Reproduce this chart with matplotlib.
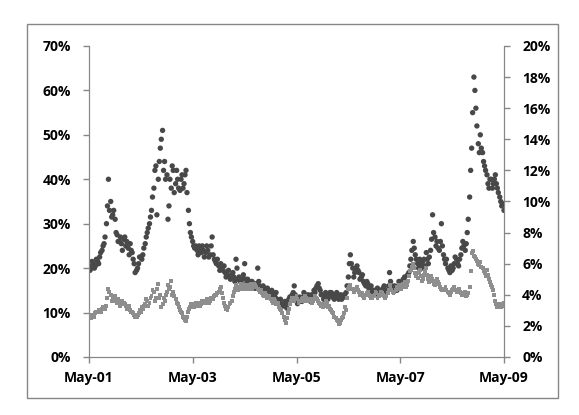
#!/usr/bin/env python3
import matplotlib
matplotlib.use("Agg")
import matplotlib.pyplot as plt
import matplotlib.dates as mdates
import matplotlib.ticker as mticker
import pandas as pd

# semi-monthly samples (1st / 15th), May 2001 .. May 2009
dates = pd.date_range("2001-05-01", "2009-05-01", freq="SMS")
# the in-between samples, one week later
mid_dates = pd.date_range("2001-05-01", "2009-04-16", freq="SMS") + pd.Timedelta(days=7)

# dark series, left axis (%)
dark = [
    20.5, 20, 21, 20.5, 21.5, 22.5, 24, 25.5, 30, 40, 35, 32, 31, 27.5, 26, 25.5, 26.5, 25, 24.5, 25.5, 23.5, 21, 19.5, 21,
    22.5, 23, 25.5, 28, 30, 33, 38, 43, 40, 47, 51, 44, 41, 34, 38, 42, 39, 40, 37.5, 41, 39, 42, 33, 28,
    26, 24.5, 24, 25, 23.5, 24, 23.5, 24, 23, 27, 22, 21, 20.5, 21, 19.5, 19, 18.5, 18, 18.5, 18, 22, 17.5, 17, 17.5,
    21, 16.5, 17, 16, 16.5, 15.5, 20, 16, 15, 15.5, 14.5, 15, 14, 14.5, 13.5, 13, 12.5, 12, 11.5, 12, 12.5, 13.5, 14, 16,
    13.5, 12.5, 13, 13.5, 14, 13.5, 13, 14, 15, 15.5, 16.5, 15, 14, 13.5, 13.5, 14, 14.5, 14, 13.5, 14, 13.5, 13, 14, 14.5,
    18, 23, 20, 19, 20.5, 19, 18, 17, 16, 16.5, 15.5, 14.5, 15, 14.5, 14, 15, 15.5, 14.5, 15, 19, 16, 15, 15.5, 16,
    16.5, 17, 18, 17, 19, 22, 26, 23, 21, 22, 20, 22, 23.5, 21, 24, 32, 27, 26, 24, 30, 23, 21, 20, 19,
    19.5, 21, 22, 20.5, 23, 26, 24, 28, 36, 47, 63, 56, 48, 50, 46, 43, 41, 38, 40, 39, 41, 38, 36, 34, 33,
]
dark_mid = [
    19.5, 21.5, 20, 22, 21, 23.5, 25, 27, 34, 33, 31.5, 33, 28, 26, 27, 24, 27, 26, 23, 24, 22, 19, 20, 22.5,
    22, 24.5, 27, 29, 31.5, 36, 42, 32, 44, 49, 42, 40, 31, 40, 43, 37, 42, 38, 40, 38, 41, 37, 30, 27,
    25, 25, 23, 24, 25, 22.5, 25, 22.5, 25, 23, 21.5, 22, 19.5, 20, 20.5, 18, 19.5, 17.5, 19, 17, 20, 18, 16.5, 18.5,
    17.5, 17.5, 16, 17, 15.5, 16.5, 17, 15.5, 16, 14.5, 15.5, 14, 15, 13.5, 14.5, 12.5, 13, 11.5, 12.5, 11, 13, 13, 14.5, 14,
    12, 13.5, 12.5, 14.5, 13, 14, 12.5, 13.5, 14.5, 16, 15.5, 14, 13, 14.5, 13, 14.5, 13.5, 13, 14.5, 13, 14, 13.5, 13.5, 16,
    21, 21, 18, 20, 19.5, 17.5, 18.5, 16.5, 17, 15.5, 16, 15, 14, 15.5, 14.5, 14.5, 16, 15, 16, 17, 15.5, 16, 15, 17,
    16, 17.5, 17, 18.5, 20.5, 24, 24.5, 22, 20, 21, 21.5, 20.5, 22, 22.5, 26.5, 28, 25, 24.5, 26, 25, 22, 22, 19.5, 20.5,
    20, 22.5, 21, 22, 24.5, 25, 25.5, 31, 42, 55, 60, 52, 46, 47, 44, 42, 39, 40, 38, 40, 39, 37, 35, 34.5,
]

# light series, right axis (%)
light = [
    2.6, 2.5, 2.7, 2.8, 2.9, 3.0, 3.1, 3.2, 3.3, 4.4, 4.0, 3.7, 3.9, 3.5, 3.6, 3.4, 3.5, 3.3, 3.2, 3.0, 2.9, 2.7, 2.6, 2.8,
    2.9, 3.1, 3.4, 3.6, 3.5, 3.9, 4.2, 3.8, 4.7, 4.0, 3.4, 3.6, 4.2, 4.4, 4.9, 4.2, 3.7, 3.4, 3.0, 2.8, 2.5, 2.3, 2.9, 3.2,
    3.3, 3.4, 3.3, 3.5, 3.4, 3.6, 3.5, 3.7, 3.6, 3.8, 3.9, 4.0, 4.2, 4.5, 3.8, 3.3, 3.0, 3.4, 3.6, 4.2, 4.6, 4.3, 4.5, 4.4,
    4.6, 4.5, 4.4, 4.7, 4.5, 4.6, 4.4, 4.2, 4.1, 3.9, 4.0, 3.8, 3.7, 3.5, 3.6, 3.4, 3.2, 3.0, 2.6, 2.2, 2.8, 3.4, 3.8, 3.6,
    3.9, 3.5, 3.6, 3.8, 3.9, 3.7, 3.6, 3.5, 3.7, 3.8, 3.6, 3.4, 3.2, 3.3, 3.5, 3.3, 3.0, 2.8, 2.5, 2.3, 2.2, 2.5, 2.8, 3.0,
    4.4, 4.6, 4.4, 4.3, 4.5, 4.2, 4.1, 3.9, 4.0, 4.2, 3.9, 3.8, 4.0, 4.1, 3.9, 4.2, 4.0, 3.8, 4.1, 4.6, 4.3, 4.1, 4.3, 4.4,
    4.6, 4.5, 4.8, 4.6, 5.2, 5.6, 6.0, 5.4, 5.1, 5.6, 4.9, 5.3, 5.7, 5.0, 5.2, 4.9, 4.6, 5.0, 4.7, 4.4, 4.3, 4.5, 4.2, 4.0,
    4.3, 4.5, 4.2, 4.4, 4.1, 4.0, 4.2, 4.0, 4.5, 6.7, 6.5, 6.3, 6.0, 6.1, 5.7, 5.4, 5.6, 5.0, 4.6, 4.3, 3.6, 3.2, 3.4, 3.3, 3.5,
]
light_mid = [
    2.7, 2.6, 2.6, 2.9, 3.0, 2.9, 3.2, 3.1, 3.8, 4.2, 3.6, 3.8, 3.6, 3.7, 3.3, 3.6, 3.4, 3.1, 3.3, 2.9, 2.8, 2.6, 2.7, 3.0,
    3.2, 3.3, 3.7, 3.3, 3.8, 4.3, 3.6, 4.4, 3.8, 3.2, 3.8, 4.0, 4.6, 4.5, 4.0, 3.9, 3.5, 3.2, 2.9, 2.6, 2.4, 2.6, 3.1, 3.4,
    3.2, 3.5, 3.4, 3.3, 3.6, 3.5, 3.7, 3.5, 3.8, 3.7, 4.0, 4.1, 4.4, 4.1, 3.5, 3.1, 3.2, 3.5, 3.9, 4.4, 4.5, 4.4, 4.7, 4.5,
    4.4, 4.6, 4.6, 4.4, 4.7, 4.5, 4.3, 4.3, 4.0, 4.1, 3.8, 3.9, 3.6, 3.7, 3.4, 3.5, 3.1, 2.8, 2.4, 2.5, 3.1, 3.6, 3.7, 3.8,
    3.7, 3.6, 3.7, 3.6, 3.8, 3.6, 3.7, 3.6, 3.9, 3.7, 3.5, 3.3, 3.4, 3.6, 3.2, 3.1, 2.9, 2.6, 2.4, 2.1, 2.4, 2.6, 3.2, 3.8,
    4.5, 4.4, 4.2, 4.4, 4.3, 4.0, 4.1, 3.8, 4.1, 4.0, 3.8, 3.9, 4.2, 3.8, 4.0, 4.1, 3.9, 3.9, 4.3, 4.5, 4.2, 4.2, 4.5, 4.6,
    4.4, 4.7, 4.5, 4.9, 5.5, 5.8, 5.7, 5.2, 5.4, 5.2, 5.0, 5.5, 5.3, 4.8, 5.0, 4.7, 4.8, 4.8, 4.5, 4.3, 4.4, 4.3, 4.1, 4.2,
    4.4, 4.3, 4.3, 4.2, 4.0, 4.1, 3.9, 4.1, 5.5, 6.8, 6.4, 6.2, 5.9, 5.8, 5.5, 5.2, 5.3, 4.8, 4.5, 4.0, 3.4, 3.3, 3.2, 3.4,
]

tick_dates = pd.to_datetime(["2001-05-01", "2003-05-01", "2005-05-01", "2007-05-01", "2009-05-01"])

plt.rcParams["font.family"] = ["Open Sans", "DejaVu Sans"]
plt.rcParams["font.size"] = 10

axis_grey = "#868686"

fig = plt.figure(figsize=(5.79, 4.15), dpi=100)
ax = fig.add_axes([0.1537, 0.1398, 0.7168, 0.7494])
ax2 = ax.twinx()

# outer chart border
fig.patches.append(plt.Rectangle((0.0466, 0.04), 0.917, 0.902, transform=fig.transFigure,
                                 fill=False, edgecolor=axis_grey, linewidth=1.0))

all_dates = dates.append(mid_dates)
ax.scatter(all_dates, dark + dark_mid, s=15, marker="o", color="#484848", edgecolors="none", zorder=3)
ax2.scatter(all_dates, light + light_mid, s=8, marker="s", color="#8e8e8e", edgecolors="none", zorder=3)

ax.set_xlim(tick_dates[0], tick_dates[-1])
ax.set_ylim(0, 70)
ax2.set_ylim(0, 20)

ax.set_xticks(tick_dates)
ax.xaxis.set_major_formatter(mdates.DateFormatter("%b-%y"))
ax.yaxis.set_major_locator(mticker.MultipleLocator(10))
ax2.yaxis.set_major_locator(mticker.MultipleLocator(2))
ax.yaxis.set_major_formatter(mticker.FuncFormatter(lambda v, p: "%d%%" % v))
ax2.yaxis.set_major_formatter(mticker.FuncFormatter(lambda v, p: "%d%%" % v))

for a in (ax, ax2):
    a.spines["top"].set_visible(False)
    for s in ("left", "right", "bottom"):
        a.spines[s].set_color(axis_grey)
    a.tick_params(color=axis_grey, length=4, width=1, labelcolor="black")
    for lbl in a.get_xticklabels() + a.get_yticklabels():
        lbl.set_fontweight("bold")
ax.tick_params(axis="y", pad=9)
ax.tick_params(axis="x", pad=6)
ax2.tick_params(axis="y", pad=9)

fig.savefig("out.png", dpi=100)
